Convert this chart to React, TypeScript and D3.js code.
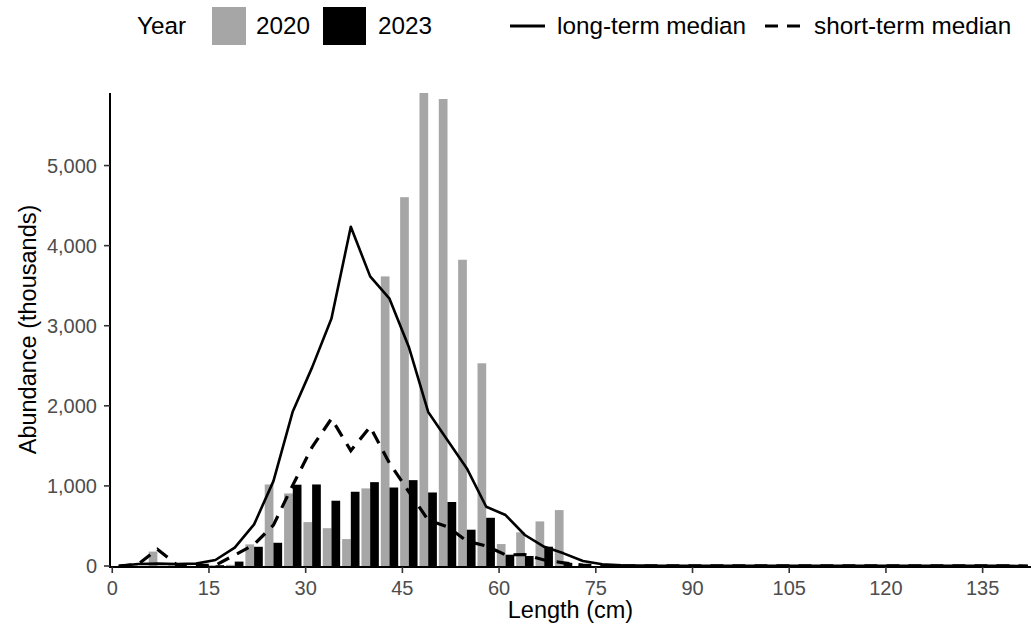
import React from "react";
import * as d3 from "d3";

// Length bins (cm, bin centres)
const lengths = [1, 4, 7, 10, 13, 16, 19, 22, 25, 28, 31, 34, 37, 40, 43, 46, 49, 52, 55, 58, 61, 64, 67, 70, 73, 76, 79, 82, 85, 88, 91, 94, 97, 100, 103, 106, 109, 112, 115, 118, 121, 124, 127, 130, 133, 136, 139, 142];

// Abundance (thousands) by year
const abund2020 = [0, 10, 180, 10, 0, 10, 15, 270, 1018, 906, 548, 472, 336, 969, 3616, 4605, 5906, 5831, 3824, 2531, 274, 420, 557, 698, 0, 0, 0, 0, 0, 0, 0, 0, 0, 0, 0, 0, 0, 0, 0, 0, 0, 0, 0, 0, 0, 0, 0, 0];
const abund2023 = [0, 0, 0, 0, 0, 10, 55, 240, 290, 1015, 1018, 815, 927, 1047, 980, 1072, 918, 799, 453, 602, 141, 125, 241, 40, 0, 0, 0, 0, 0, 0, 0, 0, 0, 0, 0, 0, 0, 0, 0, 0, 0, 0, 0, 0, 0, 0, 0, 0];

// Medians
const longTermMedian = [0, 25, 30, 25, 30, 75, 230, 520, 1060, 1930, 2480, 3090, 4235, 3616, 3338, 2735, 1924, 1570, 1218, 740, 636, 387, 240, 158, 62, 22, 10, 6, 4, 3, 2, 2, 2, 2, 2, 2, 2, 2, 2, 2, 2, 2, 1, 1, 1, 1, 1, 0];
const shortTermMedian = [0, 20, 210, 15, 5, 10, 137, 268, 511, 1010, 1484, 1840, 1440, 1737, 1284, 927, 574, 490, 310, 250, 140, 141, 75, 40, 10, 3, 1, 1, 1, 1, 1, 1, 1, 1, 1, 1, 1, 1, 1, 1, 1, 1, 1, 1, 1, 1, 1, 0];

const xTicks = [0, 15, 30, 45, 60, 75, 90, 105, 120, 135];
const yTicks = [0, 1000, 2000, 3000, 4000, 5000];

const years = ["2020", "2023"];
const yearColors = ["#a6a6a6", "#000000"];

const FONT = "'Liberation Sans', Arial, sans-serif";

export default function App() {
  const W = 1031;
  const H = 632;
  const left = 110;
  const right = 1031;
  const top = 93;
  const bottom = 566;

  const binW = 3;
  const barFrac = 0.9;

  const x = d3.scaleLinear().domain([-0.35, 142.5]).range([left, right]);
  const y = d3.scaleLinear().domain([0, 5906]).range([bottom, top]);

  const half = (binW * barFrac) / 2;
  const series = [abund2020, abund2023];

  const line = d3
    .line<number>()
    .x((_, i) => x(lengths[i]))
    .y((d) => y(d));

  const fmt = d3.format(",");

  return (
    <div style={{ position: "absolute", left: 0, top: 0 }}>
      <svg width={W} height={H} style={{ display: "block", background: "#fff" }}>
        <defs>
          <clipPath id="plotclip">
            <rect x={left} y={0} width={right - left} height={bottom + 2} />
          </clipPath>
        </defs>
        {/* bars */}
        <g clipPath="url(#plotclip)">
          {series.map((vals, s) =>
            vals.map((v, i) => {
              const x0 = s === 0 ? x(lengths[i] - half) : x(lengths[i]);
              const x1 = s === 0 ? x(lengths[i]) : x(lengths[i] + half);
              return v > 0 ? (
                <rect
                  key={`${s}-${i}`}
                  x={x0}
                  y={y(v)}
                  width={x1 - x0}
                  height={y(0) - y(v)}
                  fill={yearColors[s]}
                />
              ) : null;
            })
          )}
          <path
            d={line(longTermMedian) || ""}
            fill="none"
            stroke="#000"
            strokeWidth={2.6}
            strokeLinejoin="round"
          />
          <path
            d={line(shortTermMedian) || ""}
            fill="none"
            stroke="#000"
            strokeWidth={3.2}
            strokeDasharray="13,9"
          />
        </g>

        {/* axes */}
        <line x1={left} x2={left} y1={top} y2={bottom + 1} stroke="#000" strokeWidth={2} />
        <line x1={left - 1} x2={right} y1={bottom + 1} y2={bottom + 1} stroke="#000" strokeWidth={2} />
        {yTicks.map((t) => (
          <g key={`y${t}`}>
            <line x1={left - 6} x2={left} y1={y(t)} y2={y(t)} stroke="#333" strokeWidth={1.6} />
            <text
              x={left - 13}
              y={y(t)}
              dy="0.36em"
              textAnchor="end"
              fontFamily={FONT}
              fontSize={20}
              fill="#4d4d4d"
            >
              {fmt(t)}
            </text>
          </g>
        ))}
        {xTicks.map((t) => (
          <g key={`x${t}`}>
            <line x1={x(t)} x2={x(t)} y1={bottom + 1} y2={bottom + 7} stroke="#333" strokeWidth={1.6} />
            <text
              x={x(t)}
              y={bottom + 29}
              textAnchor="middle"
              fontFamily={FONT}
              fontSize={20}
              fill="#4d4d4d"
            >
              {t}
            </text>
          </g>
        ))}
        <text x={(left + right) / 2} y={618} textAnchor="middle" fontFamily={FONT} fontSize={23.5} fill="#000">
          Length (cm)
        </text>
        <text
          transform={`translate(36,${(top + bottom) / 2}) rotate(-90)`}
          textAnchor="middle"
          fontFamily={FONT}
          fontSize={23.5}
          fill="#000"
        >
          Abundance (thousands)
        </text>

        {/* legend */}
        <g fontFamily={FONT} fontSize={24.3} fill="#000">
          <text x={137} y={34}>Year</text>
          <rect x={212} y={7} width={34} height={38} fill={yearColors[0]} />
          <text x={256} y={34}>{years[0]}</text>
          <rect x={323} y={7} width={43} height={38} fill={yearColors[1]} />
          <text x={378} y={34}>{years[1]}</text>
          <line x1={510} x2={545} y1={26} y2={26} stroke="#000" strokeWidth={3} />
          <text x={557} y={34}>long-term median</text>
          <line x1={765} x2={803} y1={26} y2={26} stroke="#000" strokeWidth={3} strokeDasharray="13,9" />
          <text x={814} y={34}>short-term median</text>
        </g>
      </svg>
    </div>
  );
}
